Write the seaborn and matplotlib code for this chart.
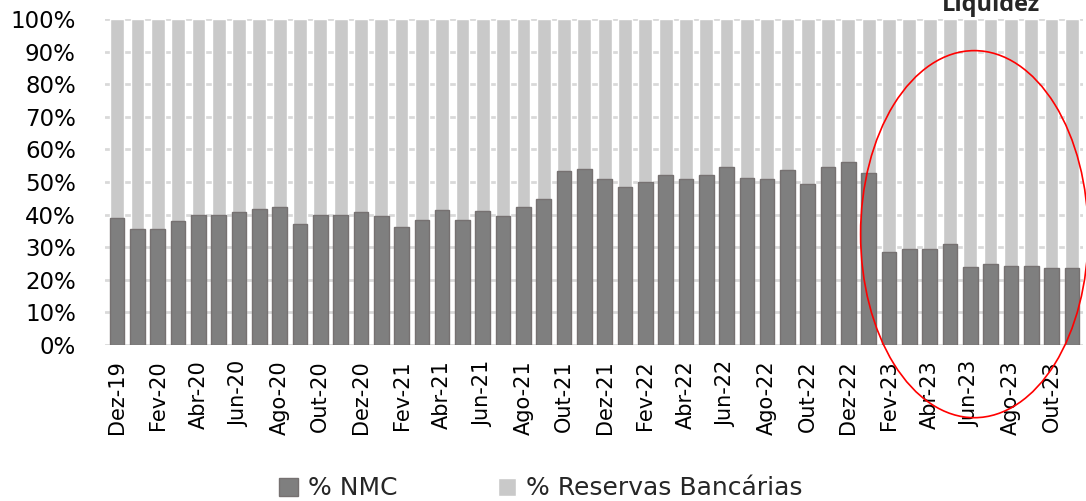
import numpy as np
import pandas as pd
import seaborn as sns
import matplotlib.pyplot as plt
from matplotlib.patches import Ellipse
from matplotlib.ticker import PercentFormatter

meses = ['Dez-19', 'Jan-20', 'Fev-20', 'Mar-20', 'Abr-20', 'Mai-20', 'Jun-20', 'Jul-20', 'Ago-20', 'Set-20',
         'Out-20', 'Nov-20', 'Dez-20', 'Jan-21', 'Fev-21', 'Mar-21', 'Abr-21', 'Mai-21', 'Jun-21', 'Jul-21',
         'Ago-21', 'Set-21', 'Out-21', 'Nov-21', 'Dez-21', 'Jan-22', 'Fev-22', 'Mar-22', 'Abr-22', 'Mai-22',
         'Jun-22', 'Jul-22', 'Ago-22', 'Set-22', 'Out-22', 'Nov-22', 'Dez-22', 'Jan-23', 'Fev-23', 'Mar-23',
         'Abr-23', 'Mai-23', 'Jun-23', 'Jul-23', 'Ago-23', 'Set-23', 'Out-23', 'Nov-23']
pct_nmc = [39.0, 35.5, 35.5, 38.1, 40.0, 40.0, 40.7, 41.6, 42.4, 37.2,
           39.8, 39.8, 40.9, 39.6, 36.3, 38.3, 41.4, 38.3, 41.2, 39.6,
           42.2, 44.8, 53.5, 53.9, 51.0, 48.6, 50.1, 52.0, 50.8, 52.0,
           54.5, 51.1, 51.0, 53.6, 49.3, 54.5, 56.1, 52.7, 28.4, 29.4,
           29.4, 30.9, 24.0, 24.8, 24.3, 24.1, 23.5, 23.5]
pct_reservas = [100 - v for v in pct_nmc]

df = pd.DataFrame({'mes': meses, 'nmc': pct_nmc, 'reservas': pct_reservas})
df['total'] = df['nmc'] + df['reservas']

sns.set_style('white')
plt.rcParams['font.family'] = ['DejaVu Sans']

fig = plt.figure(figsize=(10.86, 5.01), dpi=100)
ax = fig.add_axes([105 / 1086, 1 - 345 / 501, 978 / 1086, 326 / 501])

cor_nmc = '#7f7f7f'
cor_res = '#c9c9c9'
sns.barplot(data=df, x='mes', y='total', color=cor_res, width=0.68, saturation=1,
            ax=ax, label='% Reservas Bancárias', zorder=2)
sns.barplot(data=df, x='mes', y='nmc', color=cor_nmc, width=0.72, saturation=1,
            edgecolor='#767171', linewidth=1, ax=ax, label='% NMC', zorder=3)

ax.set_ylim(0, 100)
ax.set_xlim(-0.6, len(meses) - 0.45)
ax.set_yticks(np.arange(0, 101, 10))
ax.yaxis.set_major_formatter(PercentFormatter(decimals=0))
ax.grid(axis='y', color='#d9d9d9', linewidth=2, zorder=0)
ax.set_axisbelow(True)
for s in ax.spines.values():
    s.set_visible(False)
ax.set_xlabel('')
ax.set_ylabel('')
ax.set_xticks(range(0, len(meses), 2))
ax.set_xticklabels(meses[::2], rotation=90)
ax.tick_params(axis='x', labelsize=15, length=0, colors='black', pad=11)
ax.tick_params(axis='y', labelsize=16.5, length=0, colors='black', pad=21)

handles, labels = ax.get_legend_handles_labels()
order = [labels.index('% NMC'), labels.index('% Reservas Bancárias')]
ax.legend([handles[i] for i in order], [labels[i] for i in order], loc='center',
          bbox_to_anchor=(0.446, -0.44), ncol=2, frameon=False, fontsize=18,
          handlelength=0.75, handleheight=0.75, handletextpad=0.4, columnspacing=4.0)

elipse = Ellipse((42.2, 34.0), 11.2, 112.6, fill=False, edgecolor='red', linewidth=1.2,
                 clip_on=False, zorder=5)
ax.add_patch(elipse)

fig.text(991.5 / 1086, 1 - 11 / 501, 'Liquidez', ha='center', va='baseline',
         fontsize=17, fontweight='bold', family=['Open Sans', 'DejaVu Sans'])

fig.savefig('out.png', dpi=100)
